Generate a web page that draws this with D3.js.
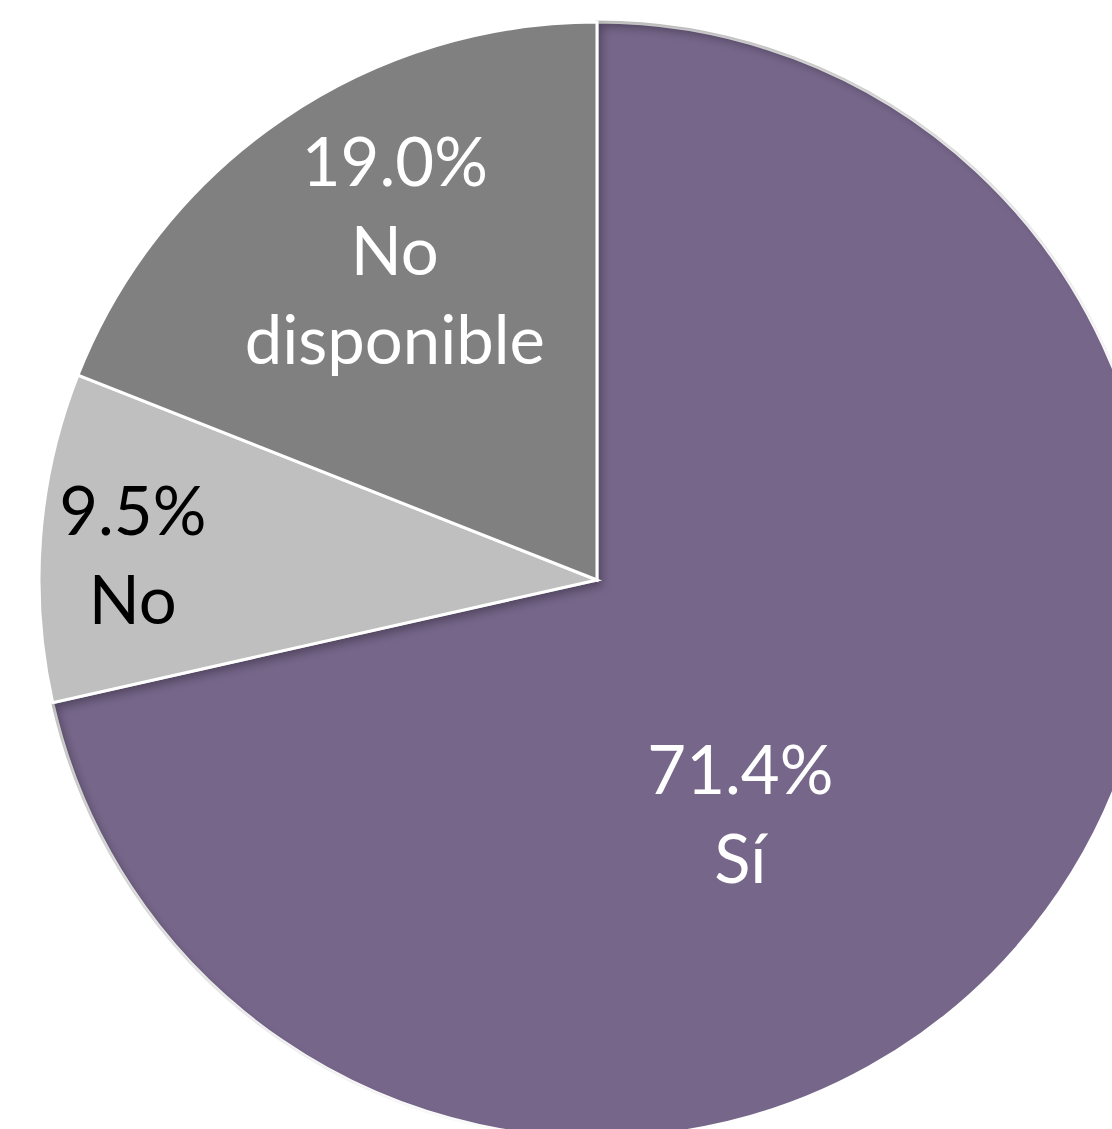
<!DOCTYPE html>
<html>
<head>
<meta charset="utf-8">
<script src="https://cdn.jsdelivr.net/npm/d3@7"></script>
<style>
  html, body { margin: 0; padding: 0; background: #fff; }
  svg { display: block; }
</style>
</head>
<body>
<svg id="chart" width="1112" height="1129"></svg>
<script>
const categories = ["Sí", "No", "No disponible"];
const values = [71.4, 9.5, 19.0];
const labelLines = [["71.4%", "Sí"], ["9.5%", "No"], ["19.0%", "No", "disponible"]];

const colors = ["#76668A", "#BFBFBF", "#808080"];
const textColors = ["#FFFFFF", "#000000", "#FFFFFF"];
// label placement: radius fraction and angle shift (degrees) relative to slice mid-angle
const placement = [{r: 0.529, da: 22.3}, {r: 0.832, da: -4.4}, {r: 0.656, da: 0.7}];

const W = 1112, H = 1129;
const cx = 597, cy = 580, R = 558;

const svg = d3.select("#chart");
const defs = svg.append("defs");
const f = defs.append("filter").attr("id", "inner")
  .attr("x", "-5%").attr("y", "-5%").attr("width", "110%").attr("height", "110%");
f.append("feOffset").attr("in", "SourceAlpha").attr("dx", 7).attr("dy", 7).attr("result", "off");
f.append("feGaussianBlur").attr("in", "off").attr("stdDeviation", 5).attr("result", "blur");
f.append("feComposite").attr("operator", "out").attr("in", "SourceGraphic").attr("in2", "blur").attr("result", "inverse");
f.append("feFlood").attr("flood-color", "#000").attr("flood-opacity", 0.55).attr("result", "color");
f.append("feComposite").attr("operator", "in").attr("in", "color").attr("in2", "inverse").attr("result", "shadow");
f.append("feComposite").attr("operator", "over").attr("in", "shadow").attr("in2", "SourceGraphic");

const data = categories.map((c, i) => ({cat: c, value: values[i], i}));
const pie = d3.pie().sort(null).value(d => d.value).startAngle(0).endAngle(2 * Math.PI);
const arcs = pie(data);
const arc = d3.arc().innerRadius(0).outerRadius(R);

const g = svg.append("g").attr("transform", `translate(${cx},${cy})`);

g.selectAll("path.slice").data(arcs).join("path")
  .attr("class", "slice")
  .attr("d", arc)
  .attr("fill", d => colors[d.data.i])
  .attr("stroke", "#fff")
  .attr("stroke-width", 3)
  .attr("stroke-linejoin", "miter")
  .attr("filter", d => d.data.i === 0 ? "url(#inner)" : null);

const fontSize = 67, lineH = 89;
arcs.forEach(d => {
  const p = placement[d.data.i];
  const mid = (d.startAngle + d.endAngle) / 2 + p.da * Math.PI / 180;
  const rr = p.r * R;
  const x = rr * Math.sin(mid), y = -rr * Math.cos(mid);
  const lines = labelLines[d.data.i];
  const t = g.append("text")
    .attr("text-anchor", "middle")
    .attr("font-family", "Lato, 'Open Sans', sans-serif")
    .attr("font-size", fontSize)
    .attr("fill", textColors[d.data.i]);
  const y0 = y - (lines.length - 1) * lineH / 2;
  lines.forEach((ln, k) => {
    t.append("tspan").attr("x", x).attr("y", y0 + k * lineH).text(ln);
  });
});
</script>
</body>
</html>
